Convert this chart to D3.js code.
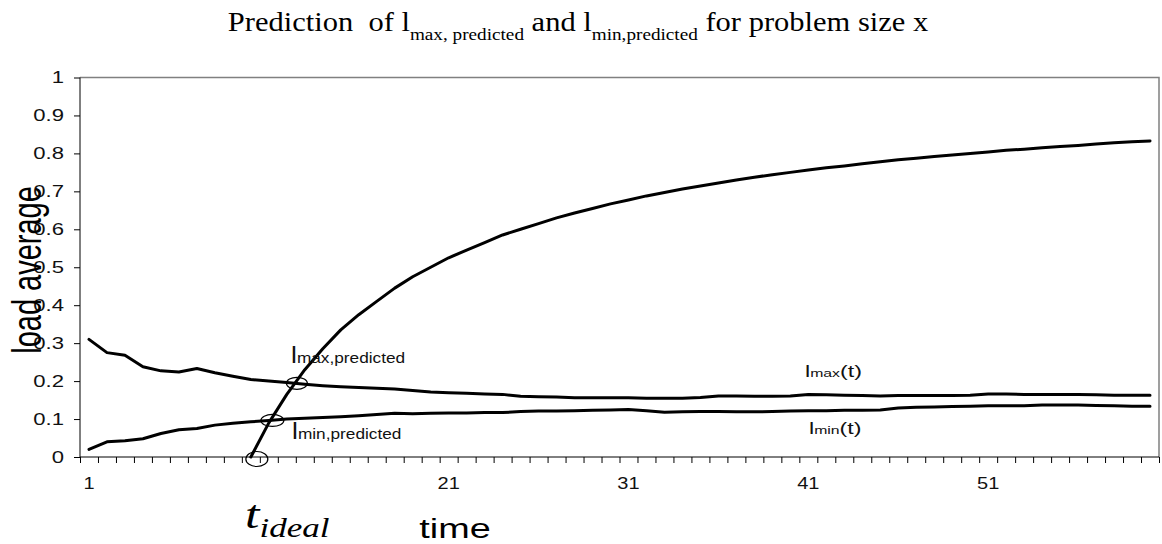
<!DOCTYPE html>
<html>
<head>
<meta charset="utf-8">
<script src="https://cdn.jsdelivr.net/npm/d3@7"></script>
<style>
  html, body { margin: 0; padding: 0; background: #fff; }
  svg { display: block; }
  text { white-space: pre; }
</style>
</head>
<body>
<svg id="chart" width="1162" height="544"></svg>
<script>
// Time steps (categories) 1..60
const categories = d3.range(1, 61);

// Observed maximum load average per time step
const lmax = [
  0.310, 0.275, 0.268, 0.238, 0.227, 0.224, 0.233, 0.222, 0.213, 0.204,
  0.200, 0.196, 0.192, 0.188, 0.185, 0.183, 0.181, 0.179, 0.175, 0.171,
  0.169, 0.168, 0.166, 0.165, 0.160, 0.159, 0.158, 0.156, 0.156, 0.156,
  0.156, 0.155, 0.155, 0.155, 0.157, 0.161, 0.161, 0.160, 0.160, 0.161,
  0.165, 0.164, 0.163, 0.162, 0.161, 0.162, 0.162, 0.162, 0.162, 0.163,
  0.166, 0.166, 0.165, 0.165, 0.165, 0.165, 0.164, 0.163, 0.163, 0.163
];

// Observed minimum load average per time step
const lmin = [
  0.020, 0.040, 0.043, 0.048, 0.062, 0.072, 0.075, 0.084, 0.089, 0.093,
  0.096, 0.100, 0.102, 0.104, 0.106, 0.109, 0.112, 0.115, 0.114, 0.115,
  0.116, 0.116, 0.117, 0.117, 0.120, 0.121, 0.121, 0.122, 0.123, 0.124,
  0.125, 0.122, 0.118, 0.119, 0.120, 0.120, 0.119, 0.119, 0.120, 0.121,
  0.122, 0.122, 0.123, 0.123, 0.124, 0.129, 0.131, 0.132, 0.133, 0.134,
  0.135, 0.135, 0.135, 0.137, 0.137, 0.137, 0.136, 0.135, 0.134, 0.134
];

// Predicted load for problem size x, starting at t_ideal (time step 10)
const predStart = 10;
const predicted = [
  0.000, 0.090, 0.165, 0.230, 0.285, 0.335, 0.375, 0.410, 0.445, 0.475,
  0.500, 0.525, 0.545, 0.565, 0.585, 0.600, 0.615, 0.630, 0.643, 0.655,
  0.667, 0.677, 0.688, 0.697, 0.706, 0.714, 0.722, 0.730, 0.737, 0.744,
  0.750, 0.756, 0.762, 0.767, 0.773, 0.778, 0.783, 0.787, 0.792, 0.796,
  0.800, 0.804, 0.808, 0.811, 0.815, 0.818, 0.821, 0.825, 0.828, 0.831,
  0.833
];

const yTicks = [0, 0.1, 0.2, 0.3, 0.4, 0.5, 0.6, 0.7, 0.8, 0.9, 1];
const xTickLabels = [1, 21, 31, 41, 51];

const svg = d3.select("#chart");
const sans = "'Liberation Sans', Arial, sans-serif";
const serif = "'Liberation Serif', 'Times New Roman', serif";

const plot = { left: 80, right: 1159, top: 77.5, bottom: 457 };

const x = d3.scaleBand().domain(categories).range([plot.left, plot.right]).padding(0);
const xc = c => x(c) + x.bandwidth() / 2;
const xEdge = d3.scaleLinear().domain([0, categories.length]).range([plot.left, plot.right]);
const y = d3.scaleLinear().domain([0, 1]).range([plot.bottom, plot.top]);

// Text in this chart is set a little wider than the font's natural proportions
function widen(sel, px, py, sx) {
  sel.attr("x", 0).attr("y", 0).attr("transform", `translate(${px},${py}) scale(${sx},1)`);
}

// Plot area frame (top and right edges)
svg.append("path")
  .attr("d", `M${plot.left},${plot.top}H${plot.right}V${plot.bottom}`)
  .attr("fill", "none")
  .attr("stroke", "#808080")
  .attr("stroke-width", 1.5);

// Y axis
const yAxis = svg.append("g")
  .attr("transform", `translate(${plot.left},0)`)
  .call(d3.axisLeft(y).tickValues(yTicks).tickSize(6).tickPadding(10)
    .tickFormat(d => d === 0 ? "0" : d === 1 ? "1" : d.toFixed(1)));
yAxis.select(".domain").attr("stroke", "#000").attr("d", `M0,${plot.top}V${plot.bottom}`);
yAxis.selectAll(".tick line").attr("stroke", "#000");
yAxis.selectAll(".tick text")
  .attr("font-family", sans).attr("font-size", 17).attr("fill", "#111")
  .attr("x", 0)
  .attr("transform", "translate(-16,0) scale(1.3,1)");

// X axis: tick marks between categories
const xTicksG = svg.append("g")
  .attr("transform", `translate(0,${plot.bottom})`)
  .call(d3.axisBottom(xEdge).tickValues(d3.range(0, categories.length + 1)).tickSize(6).tickFormat(""));
xTicksG.select(".domain").attr("stroke", "#000").attr("d", `M${plot.left},0H${plot.right}`);
xTicksG.selectAll(".tick line").attr("stroke", "#000");

// X axis labels at category centres
const xLabelsG = svg.append("g")
  .attr("transform", `translate(0,${plot.bottom})`)
  .call(d3.axisBottom(x).tickValues(xTickLabels).tickSize(0).tickPadding(21));
xLabelsG.select(".domain").remove();
xLabelsG.selectAll(".tick text")
  .attr("font-family", sans).attr("font-size", 16).attr("fill", "#111")
  .attr("y", 0)
  .attr("transform", "translate(0,21) scale(1.25,1)");

// Series lines
const line = d3.line().x(d => xc(d.c)).y(d => y(d.v));
const lmaxPts = categories.map((c, i) => ({ c, v: lmax[i] }));
const lminPts = categories.map((c, i) => ({ c, v: lmin[i] }));
const predPts = predicted.map((v, i) => ({ c: predStart + i, v }));

[lmaxPts, lminPts, predPts].forEach(pts => {
  svg.append("path")
    .datum(pts)
    .attr("d", line)
    .attr("fill", "none")
    .attr("stroke", "#000")
    .attr("stroke-width", 3)
    .attr("stroke-linejoin", "round")
    .attr("stroke-linecap", "round");
});

// Where the predicted curve crosses another series
function crossing(series) {
  for (let i = 0; i < predicted.length - 1; i++) {
    const c0 = predStart + i;
    const d0 = predicted[i] - series[c0 - 1];
    const d1 = predicted[i + 1] - series[c0];
    if (d0 <= 0 && d1 > 0) {
      const t = -d0 / (d1 - d0);
      const v = predicted[i] + t * (predicted[i + 1] - predicted[i]);
      return { px: xc(c0) + t * x.bandwidth(), py: y(v) };
    }
  }
  return null;
}

const markers = [
  { px: xc(predStart) + 4, py: y(0) + 2, rx: 11, ry: 7.5 },
  Object.assign(crossing(lmin), { rx: 11.5, ry: 6 }),
  Object.assign(crossing(lmax), { rx: 10.5, ry: 6 })
];
svg.selectAll("ellipse.marker")
  .data(markers)
  .join("ellipse")
  .attr("class", "marker")
  .attr("cx", d => d.px + 2)
  .attr("cy", d => d.py)
  .attr("rx", d => d.rx)
  .attr("ry", d => d.ry)
  .attr("fill", "none")
  .attr("stroke", "#000")
  .attr("stroke-width", 1.2);

// Annotation labels
function label(xp, yp, sx, parts) {
  const t = svg.append("text")
    .attr("font-family", sans).attr("fill", "#111");
  widen(t, xp, yp, sx);
  parts.forEach(p => t.append("tspan").attr("font-size", p[1]).text(p[0]));
}
label(291, 363, 1.15, [["l", 23], ["max,predicted", 15]]);
label(292, 439, 1.15, [["l", 23], ["min,predicted", 15]]);
label(805, 377, 1.37, [["l", 17], ["max", 11.5], ["(t)", 17]]);
label(809, 434, 1.37, [["l", 17], ["min", 11.5], ["(t)", 17]]);

// Title
const title = svg.append("text")
  .attr("text-anchor", "middle")
  .attr("font-family", serif)
  .attr("font-size", 27)
  .attr("fill", "#000");
widen(title, 578, 31, 1.13);
title.append("tspan").text("Prediction  of l");
title.append("tspan").attr("font-size", 17).attr("dy", 9).text("max, predicted");
title.append("tspan").attr("dy", -9).text(" and l");
title.append("tspan").attr("font-size", 17).attr("dy", 9).text("min,predicted");
title.append("tspan").attr("dy", -9).text(" for problem size x");

// Axis titles
svg.append("text")
  .attr("transform", "translate(41,270) rotate(-90) scale(1,1.4)")
  .attr("text-anchor", "middle")
  .attr("font-family", sans)
  .attr("font-size", 29)
  .attr("fill", "#000")
  .text("load average");

const xTitle = svg.append("text")
  .attr("text-anchor", "middle")
  .attr("font-family", sans)
  .attr("font-size", 28)
  .attr("fill", "#000")
  .text("time");
widen(xTitle, 455, 538, 1.35);

// t_ideal marker label
const tIdeal = svg.append("text")
  .attr("font-family", serif)
  .attr("font-style", "italic")
  .attr("fill", "#000");
widen(tIdeal, 245, 528, 1.3);
tIdeal.append("tspan").attr("font-size", 40).text("t");
tIdeal.append("tspan").attr("font-size", 27).attr("dy", 9).text("ideal");
</script>
</body>
</html>
